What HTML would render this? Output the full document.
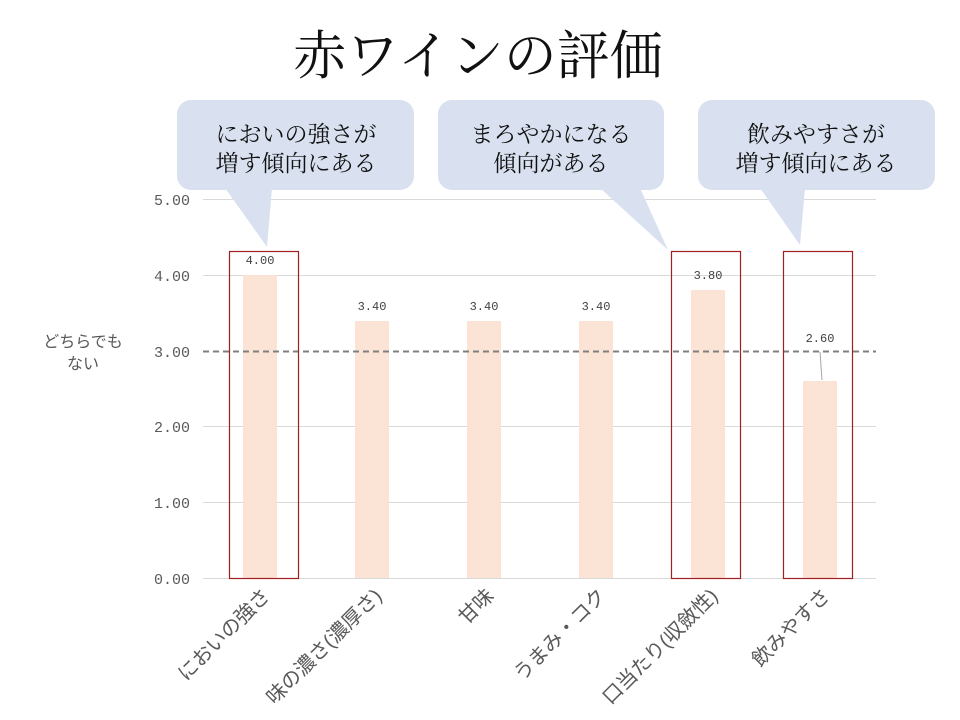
<!DOCTYPE html>
<html><head><meta charset="utf-8"><style>
body{margin:0;background:#fff}
svg{display:block}
.jp{font-family:"Liberation Serif","Noto Serif CJK SC","Noto Sans CJK JP",serif}
.ax{font-family:"Liberation Mono","Noto Sans CJK JP",monospace;font-size:15px;fill:#595959}
.cat{font-family:"Liberation Sans","Noto Sans CJK JP",sans-serif;fill:#595959}
.val{font-family:"Liberation Mono",monospace;font-size:12px;fill:#404040}
</style></head><body>
<svg width="960" height="720" viewBox="0 0 960 720">
<text x="478" y="74" text-anchor="middle" class="jp" font-size="53" fill="#111">赤ワインの評価</text>
<g stroke="#d9d9d9" stroke-width="1">
<line x1="203" x2="876" y1="199.5" y2="199.5"/><line x1="203" x2="876" y1="275.5" y2="275.5"/>
<line x1="203" x2="876" y1="426.5" y2="426.5"/><line x1="203" x2="876" y1="502.5" y2="502.5"/>
<line x1="203" x2="876" y1="578.5" y2="578.5"/>
</g>
<g class="ax" text-anchor="end">
<text x="190" y="205">5.00</text><text x="190" y="281">4.00</text><text x="190" y="357">3.00</text>
<text x="190" y="432">2.00</text><text x="190" y="508">1.00</text><text x="190" y="584">0.00</text>
</g>
<text x="83" y="347" text-anchor="middle" class="cat" style="font-size:16px">どちらでも</text>
<text x="83" y="369" text-anchor="middle" class="cat" style="font-size:16px">ない</text>
<g fill="#fbe4d5">
<rect x="243" y="275" width="34" height="303"/><rect x="355" y="321" width="34" height="257"/>
<rect x="467" y="321" width="34" height="257"/><rect x="579" y="321" width="34" height="257"/>
<rect x="691" y="290" width="34" height="288"/><rect x="803" y="381" width="34" height="197"/>
</g>
<line x1="203" x2="876" y1="351.5" y2="351.5" stroke="#7f7f7f" stroke-width="2" stroke-dasharray="6,4"/>
<g class="val" text-anchor="middle">
<text x="260" y="264">4.00</text><text x="372" y="310">3.40</text><text x="484" y="310">3.40</text>
<text x="596" y="310">3.40</text><text x="708" y="279">3.80</text><text x="820" y="342">2.60</text>
</g>
<line x1="820" y1="352" x2="822" y2="380" stroke="#a6a6a6"/>
<g fill="none" stroke="#a02020" stroke-width="1.2">
<rect x="229.5" y="251.5" width="69" height="327"/>
<rect x="671.5" y="251.5" width="69" height="327"/>
<rect x="783.5" y="251.5" width="69" height="327"/>
</g>
<g fill="#d9e1f0">
<rect x="177" y="100" width="237" height="90" rx="14"/><polygon points="225,188 272,188 267,247"/>
<rect x="438" y="100" width="226" height="90" rx="14"/><polygon points="600,188 640,188 668,250"/>
<rect x="698" y="100" width="237" height="90" rx="14"/><polygon points="760,188 805,188 800,245"/>
</g>
<g class="jp" font-size="23" fill="#111" text-anchor="middle">
<text x="296" y="142">においの強さが</text><text x="296" y="171">増す傾向にある</text>
<text x="551" y="142">まろやかになる</text><text x="551" y="171">傾向がある</text>
<text x="816" y="142">飲みやすさが</text><text x="816" y="171">増す傾向にある</text>
</g>
<g class="cat" text-anchor="end" style="font-size:20px">
<text transform="translate(271,597) rotate(-45)">においの強さ</text>
<text transform="translate(383,597) rotate(-45)">味の濃さ(濃厚さ)</text>
<text transform="translate(495,597) rotate(-45)">甘味</text>
<text transform="translate(607,597) rotate(-45)">うまみ・コク</text>
<text transform="translate(719,597) rotate(-45)">口当たり(収斂性)</text>
<text transform="translate(831,597) rotate(-45)">飲みやすさ</text>
</g>
</svg>
</body></html>
